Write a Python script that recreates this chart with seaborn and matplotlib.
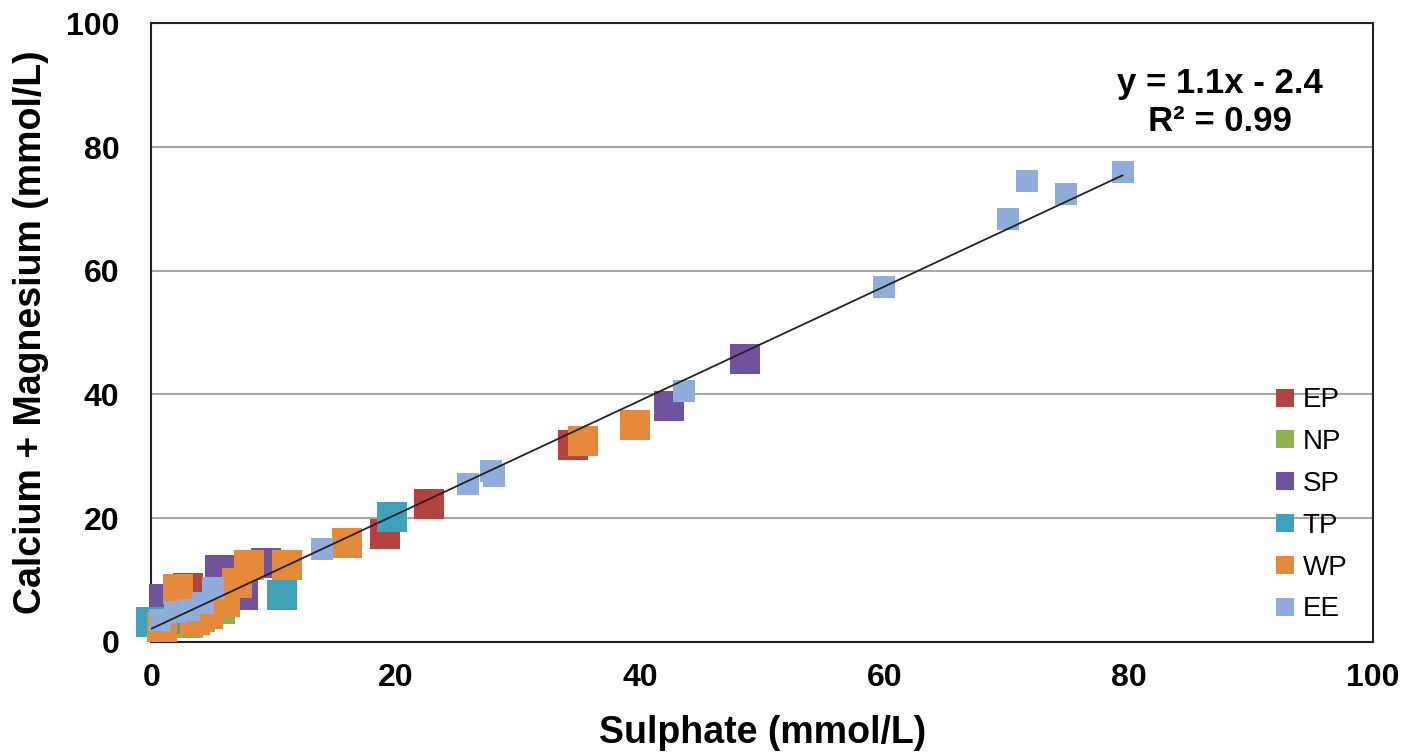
import matplotlib
matplotlib.use("Agg")
import matplotlib.pyplot as plt
import seaborn as sns
import pandas as pd
from matplotlib.lines import Line2D

sns.set_style("white")
plt.rcParams['font.family'] = ['Liberation Sans', 'DejaVu Sans']
plt.rcParams['text.color'] = 'black'
plt.rcParams['axes.labelcolor'] = 'black'
plt.rcParams['xtick.color'] = 'black'
plt.rcParams['ytick.color'] = 'black'

# ---- data ----
series_names = ["EP", "NP", "SP", "TP", "WP", "EE"]

ep_x = [34.5, 22.7, 19.1, 3.0, 1.5]
ep_y = [31.9, 22.3, 17.4, 8.7, 5.0]

np_x = [5.6, 4.0, 3.0]
np_y = [5.3, 4.0, 3.0]

sp_x = [48.6, 42.4, 5.6, 9.4, 1.0, 7.5]
sp_y = [45.8, 38.2, 11.6, 12.7, 7.0, 7.5]

tp_x = [19.7, 10.7, 0.0, 3.1]
tp_y = [20.2, 7.6, 3.2, 3.7]

wp_x = [39.6, 35.3, 16.0, 11.1, 8.0, 7.0, 6.0, 4.6, 3.6, 2.2, 0.9]
wp_y = [35.0, 32.4, 16.0, 12.4, 12.4, 9.5, 6.5, 4.5, 3.6, 8.5, 2.4]

ee_x = [79.5, 71.7, 74.9, 70.1, 60.0, 43.6, 27.8, 28.0, 25.9, 14.0, 5.0, 0.7, 1.9, 3.1, 4.2]
ee_y = [76.0, 74.5, 72.4, 68.4, 57.3, 40.5, 27.6, 26.8, 25.5, 15.0, 8.7, 3.5, 4.8, 5.2, 6.3]

equation_text = "y = 1.1x - 2.4"
r2_text = "R\u00b2 = 0.99"
x_ticks = [0, 20, 40, 60, 80, 100]
y_ticks = [0, 20, 40, 60, 80, 100]

# ---- build table ----
xs = [ep_x, np_x, sp_x, tp_x, wp_x, ee_x]
ys = [ep_y, np_y, sp_y, tp_y, wp_y, ee_y]
rows = []
for name, sx, sy in zip(series_names, xs, ys):
    for a, b in zip(sx, sy):
        rows.append({"series": name, "x": a, "y": b})
df = pd.DataFrame(rows)

colors = {"EP": "#B4433F", "NP": "#8DB24E", "SP": "#71539B",
          "TP": "#3FA2BA", "WP": "#E6893A", "EE": "#90ACD9"}
sizes = {"EP": 470, "NP": 470, "SP": 470, "TP": 470, "WP": 470, "EE": 230}

fig = plt.figure(figsize=(14.09, 7.56), dpi=100)
ax = fig.add_axes([0.1075, 0.151, 0.867, 0.818])

for name in series_names:
    sub = df[df.series == name]
    sns.scatterplot(data=sub, x="x", y="y", ax=ax, marker="s", s=sizes[name],
                    color=colors[name], linewidth=0, legend=False, zorder=3,
                    clip_on=False)

sns.regplot(data=df, x="x", y="y", ax=ax, scatter=False, ci=None, truncate=True,
            line_kws={"color": "#222222", "lw": 1.3, "zorder": 4})

ax.set_xlim(0, 100)
ax.set_ylim(0, 100)
ax.set_xticks(x_ticks)
ax.set_yticks(y_ticks)
ax.set_xticklabels([str(t) for t in x_ticks])
ax.set_yticklabels([str(t) for t in y_ticks])
ax.grid(axis="y", color="#A6A6A6", lw=1.5, zorder=0)
ax.set_axisbelow(True)
for s in ax.spines.values():
    s.set_color("#222222")
    s.set_linewidth(1.5)
ax.tick_params(axis="both", direction="out", length=8, width=1.5, color="#222222",
               labelsize=23, labelcolor="black")
ax.tick_params(axis="x", pad=7)
ax.tick_params(axis="y", pad=15)
for lab in ax.get_xticklabels() + ax.get_yticklabels():
    lab.set_fontweight("bold")

ax.set_xlabel("Sulphate (mmol/L)", fontsize=27, fontweight="bold", labelpad=16, color="black")
ax.set_ylabel("Calcium + Magnesium (mmol/L)", fontsize=27, fontweight="bold", labelpad=12, color="black")

ax.text(87.5, 90.3, equation_text, ha="center", va="center", fontsize=25, fontweight="bold")
ax.text(87.5, 84.2, r2_text, ha="center", va="center", fontsize=25, fontweight="bold")

handles = [Line2D([0], [0], marker="s", linestyle="", markersize=13,
                  markerfacecolor=colors[n], markeredgewidth=0, label=n)
           for n in series_names]
leg = ax.legend(handles=handles, loc="lower right", bbox_to_anchor=(0.995, 0.0),
                frameon=False, fontsize=20, handlelength=1.0, handletextpad=0.15,
                labelspacing=0.57, borderpad=0.2)
for t in leg.get_texts():
    t.set_color("black")

fig.savefig("out.png", dpi=100)
